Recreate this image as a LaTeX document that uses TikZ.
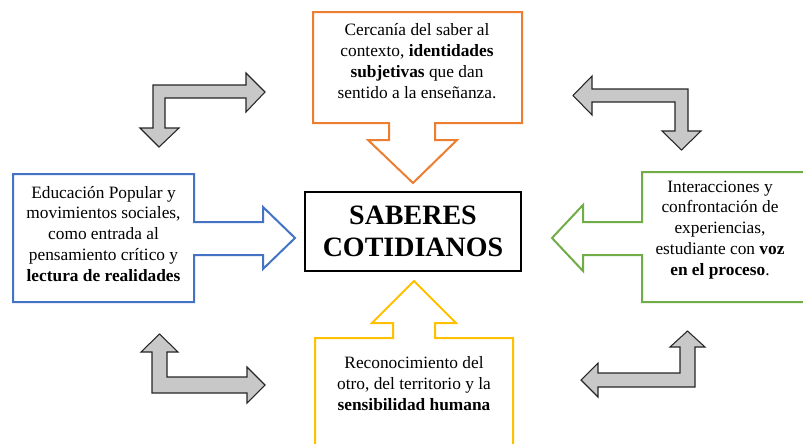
\documentclass[tikz,border=0pt]{standalone}
\usepackage{fontspec}
\setmainfont{Liberation Serif}
\definecolor{cOrange}{HTML}{ED7D31}
\definecolor{cBlue}{HTML}{4472C4}
\definecolor{cGreen}{HTML}{70AD47}
\definecolor{cYellow}{HTML}{FFC000}
\definecolor{cGray}{RGB}{200,200,200}
\tikzset{
  callout/.style={line width=1.5pt, fill=white, line join=miter},
  grayarrow/.style={draw=black!85, line width=0.8pt, fill=cGray, line join=miter},
  bodytext/.style={align=center, font=\fontsize{13}{15.7}\selectfont, inner sep=0pt},
  titletext/.style={align=center, font=\fontsize{21}{24}\selectfont\bfseries, inner sep=0pt}
}
\begin{document}
\begin{tikzpicture}[x=0.75pt, y=-0.75pt]
\useasboundingbox (0,0) rectangle (803,443);
\clip (0,0) rectangle (803,443);
% gray bent arrows
\draw[grayarrow] (159,147) -- (179,128) -- (165,128) -- (165,98) -- (246,98) -- (246,112) -- (265,92) -- (246,73) -- (246,85) -- (153,85) -- (153,128) -- (140,128) -- cycle;
\draw[grayarrow] (573,95.5) -- (592,76) -- (592,89) -- (688,89) -- (688,131) -- (701,131) -- (681.5,150) -- (662,131) -- (675,131) -- (675,102) -- (592,102) -- (592,115) -- cycle;
\draw[grayarrow] (159.5,334) -- (178,352) -- (167,352) -- (167,377) -- (247,377) -- (247,367) -- (265,385) -- (247,403) -- (247,393) -- (152,393) -- (152,352) -- (141,352) -- cycle;
\draw[grayarrow] (687.5,331) -- (705,347) -- (695,347) -- (695,387) -- (598,387) -- (598,397) -- (581,380) -- (598,363) -- (598,373) -- (680,373) -- (680,347) -- (670,347) -- cycle;
% orange callout (top)
\draw[callout, draw=cOrange] (313,12) -- (522,12) -- (522,123) -- (435,123) -- (435,140) -- (457,140) -- (413,183) -- (368,140) -- (389,140) -- (389,123) -- (313,123) -- cycle;
\node[bodytext] (top) at (417,61) {Cercanía del saber al\\contexto, \textbf{identidades}\\\textbf{subjetivas} que dan\\sentido a la enseñanza.};
% blue callout (left)
\draw[callout, draw=cBlue] (13,174) -- (194,174) -- (194,222) -- (263,222) -- (263,207) -- (295,238) -- (263,269) -- (263,255) -- (194,255) -- (194,302) -- (13,302) -- cycle;
\node[bodytext] (left) at (103.5,234) {Educación Popular y\\movimientos sociales,\\como entrada al\\pensamiento crítico y\\\textbf{lectura de realidades}};
% green callout (right)
\draw[callout, draw=cGreen] (815,172) -- (642,172) -- (642,222) -- (583,222) -- (583,205) -- (552,238) -- (583,271) -- (583,255) -- (642,255) -- (642,302) -- (815,302);
\node[bodytext] (right) at (720,230) {Interacciones y\\confrontación de\\experiencias,\\estudiante con \textbf{voz}\\\textbf{en el proceso}.};
% yellow callout (bottom)
\draw[callout, draw=cYellow] (315,455) -- (315,338) -- (393,338) -- (393,323) -- (372,323) -- (414,281) -- (456,323) -- (435,323) -- (435,338) -- (513,338) -- (513,455);
\node[bodytext] (bottom) at (414,384) {Reconocimiento del\\otro, del territorio y la\\\textbf{sensibilidad humana}};
% center box
\draw[line width=1.5pt, fill=white] (305,192) rectangle (521,271);
\node[titletext] (center) at (413,231) {SABERES\\COTIDIANOS};
\end{tikzpicture}
\end{document}
